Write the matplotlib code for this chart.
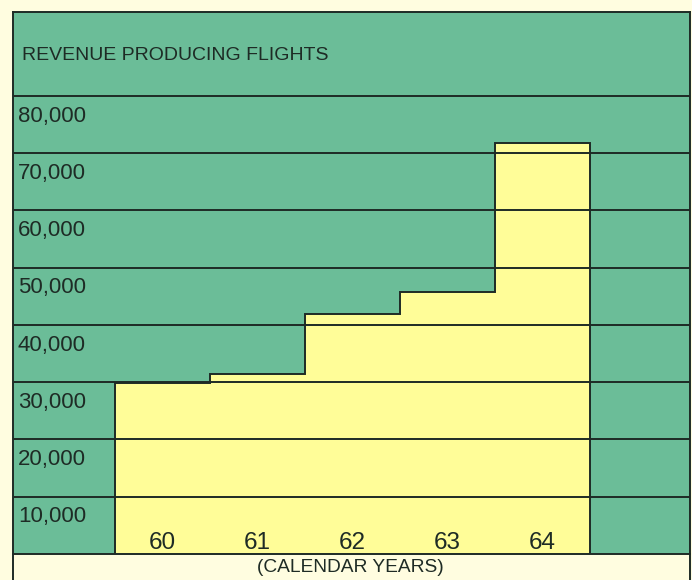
import matplotlib.pyplot as plt
import matplotlib.transforms as mtransforms
import numpy as np

# data
years = ['60', '61', '62', '63', '64']
flights = [29800, 31500, 42000, 45700, 71800]
grid_values = [10000, 20000, 30000, 40000, 50000, 60000, 70000, 80000]

teal = '#6bbd98'
yellow = '#fffd98'
paper = '#fffde0'
ink = '#1e2b25'

plt.rcParams['font.family'] = ['Liberation Sans', 'DejaVu Sans']

fig = plt.figure(figsize=(6.92, 5.80), dpi=100)
fig.patch.set_facecolor(paper)

W, H = 692, 580
left, right, top, bottom = 13, 690, 12, 554
ax = fig.add_axes([left / W, (H - bottom) / H, (right - left) / W, (bottom - top) / H])
ax.set_facecolor(teal)

x = np.arange(len(years))
edges = np.arange(len(years) + 1) - 0.5
# one stepped outline, no lines between the years
ax.stairs(flights, edges, baseline=0, fill=True, facecolor=yellow,
          edgecolor=ink, linewidth=1.4, zorder=2)

for v in grid_values:
    ax.axhline(v, color=ink, linewidth=1.4, zorder=3)

ax.set_xlim(-1.574, 5.553)
ax.set_ylim(0, 94672)
ax.set_xticks([])
ax.set_yticks([])
for s in ax.spines.values():
    s.set_color(ink)
    s.set_linewidth(1.4)

trans = mtransforms.blended_transform_factory(ax.transAxes, ax.transData)
for v in grid_values:
    ax.text(5 / (right - left), v - 3500, f'{v:,}', transform=trans,
            ha='left', va='center', fontsize=16, color=ink, zorder=4)

for xi, lab in zip(x, years):
    ax.text(xi, 1950, lab, ha='center', va='center', fontsize=17.5,
            color=ink, zorder=4)

ax.text(9 / (right - left), 87160, 'REVENUE PRODUCING FLIGHTS', transform=trans,
        ha='left', va='center', fontsize=14, color=ink)

# bottom band frame
fig.add_artist(plt.Line2D([left / W, left / W], [0, (H - bottom) / H],
                          color=ink, linewidth=1.4))
fig.add_artist(plt.Line2D([right / W, right / W], [0, (H - bottom) / H],
                          color=ink, linewidth=1.4))
fig.text(350 / W, 1 - 568 / H, '(CALENDAR YEARS)', ha='center', va='center',
         fontsize=13.8, color=ink)

fig.savefig('out.png', dpi=100, facecolor=paper)
